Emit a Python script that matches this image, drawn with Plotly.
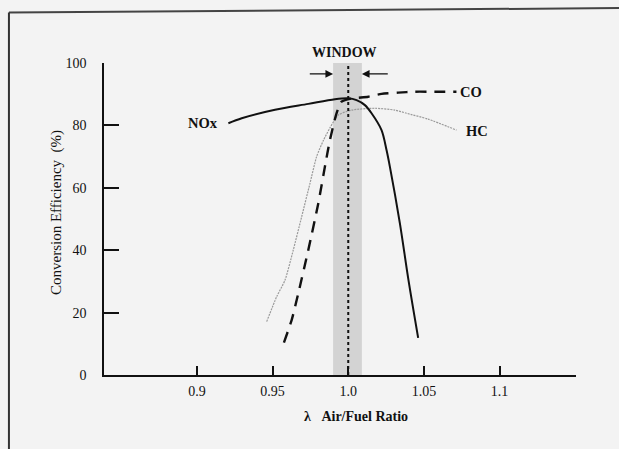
import plotly.graph_objects as go

# Catalytic converter conversion efficiency versus air/fuel ratio (lambda)
nox_lambda = [0.9208, 0.9296, 0.9516, 0.9736, 0.9912, 1.0, 1.0055, 1.011, 1.0154,
              1.022, 1.0253, 1.0275, 1.0341, 1.0398, 1.0462]
nox_eff = [80.7, 82.3, 85.0, 86.9, 88.4, 88.7, 88.1, 86.5, 83.9,
           78.5, 72.1, 66.8, 48.7, 30.4, 11.9]

co_lambda = [0.9575, 0.9626, 0.967, 0.9736, 0.9802, 0.985, 0.9879, 0.9923, 0.9956,
             1.0022, 1.0132, 1.022, 1.033, 1.044, 1.055, 1.0715]
co_eff = [10.4, 17.6, 26.2, 40.1, 55.0, 67.9, 75.3, 83.9, 87.6,
          88.6, 89.2, 90.1, 90.5, 90.8, 90.8, 90.8]

hc_lambda = [0.9461, 0.9527, 0.9582, 0.9637, 0.9692, 0.9747, 0.9791, 0.9837, 0.9879,
             0.9934, 1.0022, 1.0176, 1.0308, 1.0385, 1.0528, 1.0715]
hc_eff = [17.1, 25.1, 30.4, 40.1, 50.7, 61.4, 70.0, 75.3, 79.2,
          83.3, 84.9, 85.5, 84.9, 83.9, 82.0, 78.5]

x_ticks = [0.9, 0.95, 1.0, 1.05, 1.1, 1.15]
x_tick_text = ["0.9", "0.95", "1.0", "1.05", "1.1", ""]
y_ticks = [0, 20, 40, 60, 80, 100]

stoich = 1.0
window_lo, window_hi = 0.99, 1.009

SERIF = "Liberation Serif"
INK = "#111111"
BG = "#f3f3f3"

fig = go.Figure()

fig.add_trace(go.Scatter(x=hc_lambda, y=hc_eff, mode="lines",
                         line=dict(color="#9a9a9a", width=1.2, dash="2px,1px",
                                   shape="spline", smoothing=0.6),
                         hoverinfo="skip"))
fig.add_trace(go.Scatter(x=co_lambda, y=co_eff, mode="lines",
                         line=dict(color=INK, width=2.4, dash="11px,8px",
                                   shape="spline", smoothing=0.6),
                         hoverinfo="skip"))
fig.add_trace(go.Scatter(x=nox_lambda, y=nox_eff, mode="lines",
                         line=dict(color=INK, width=2, shape="spline", smoothing=0.9),
                         hoverinfo="skip"))

# operating window band and stoichiometric line
fig.add_shape(type="rect", xref="x", yref="y", x0=window_lo, x1=window_hi,
              y0=0, y1=100.4, fillcolor="#d3d3d3", line=dict(width=0), layer="below")
fig.add_shape(type="line", xref="x", yref="y", x0=stoich, x1=stoich, y0=0, y1=100.4,
              line=dict(color=INK, width=2, dash="dot"))

# outer frame (top and left edges)
fig.add_shape(type="line", xref="paper", yref="paper", x0=-0.2014, x1=1.0911,
              y0=1.162, y1=1.176, line=dict(color="#444", width=2))
fig.add_shape(type="line", xref="paper", yref="paper", x0=-0.2014, x1=-0.2014,
              y0=1.162, y1=-0.24, line=dict(color="#333", width=2))

# window arrows
for head, tail in [(window_lo, 0.9736), (window_hi, 1.0271)]:
    fig.add_annotation(x=head, y=96.5, ax=tail, ay=96.5, xref="x", yref="y",
                       axref="x", ayref="y", text="", showarrow=True,
                       arrowhead=2, arrowsize=1.1, arrowwidth=1.4, arrowcolor=INK,
                       standoff=0)

fig.add_annotation(x=0.51, y=1.033, xref="paper", yref="paper", text="<b>WINDOW</b>",
                   showarrow=False, font=dict(family=SERIF, size=14, color=INK),
                   xanchor="center", yanchor="middle")

labels = [
    ("NOx", 0.9043, 80.8),
    ("CO", 1.0814, 90.8),
    ("HC", 1.0850, 78.2),
]
for text, lx, ly in labels:
    fig.add_annotation(x=lx, y=ly, xref="x", yref="y", text=f"<b>{text}</b>",
                       showarrow=False,
                       font=dict(family=SERIF, size=14.5, color=INK),
                       xanchor="center", yanchor="middle")

# axis titles
fig.add_annotation(x=0.533, y=-0.134, xref="paper", yref="paper",
                   text="<b>λ&nbsp;&nbsp;&nbsp;Air/Fuel Ratio</b>", showarrow=False,
                   font=dict(family=SERIF, size=14, color=INK),
                   xanchor="center", yanchor="middle")
fig.add_annotation(x=-0.1017, y=0.5224, xref="paper", yref="paper",
                   text="Conversion Efficiency&nbsp;&nbsp;(%)", showarrow=False,
                   textangle=-90, font=dict(family=SERIF, size=15, color=INK),
                   xanchor="center", yanchor="middle")

fig.update_layout(
    width=619, height=449,
    margin=dict(l=104, r=43, t=63, b=74),
    paper_bgcolor=BG, plot_bgcolor=BG,
    showlegend=False,
    font=dict(family=SERIF, color=INK, size=14),
)
fig.update_xaxes(range=[0.8386, 1.1505], tickvals=x_ticks, ticktext=x_tick_text,
                 ticks="inside", ticklen=9, tickwidth=1.5, tickcolor=INK,
                 showline=True, linecolor=INK, linewidth=1.6,
                 showgrid=False, zeroline=False, ticklabelstandoff=2,
                 tickfont=dict(family=SERIF, size=14, color=INK))
fig.update_yaxes(range=[0, 100], tickvals=y_ticks,
                 ticks="inside", ticklen=15, tickwidth=1.5, tickcolor=INK,
                 showline=True, linecolor=INK, linewidth=1.6,
                 showgrid=False, zeroline=False, ticklabelstandoff=13,
                 tickfont=dict(family=SERIF, size=14, color=INK))

fig.write_html("out.html")
